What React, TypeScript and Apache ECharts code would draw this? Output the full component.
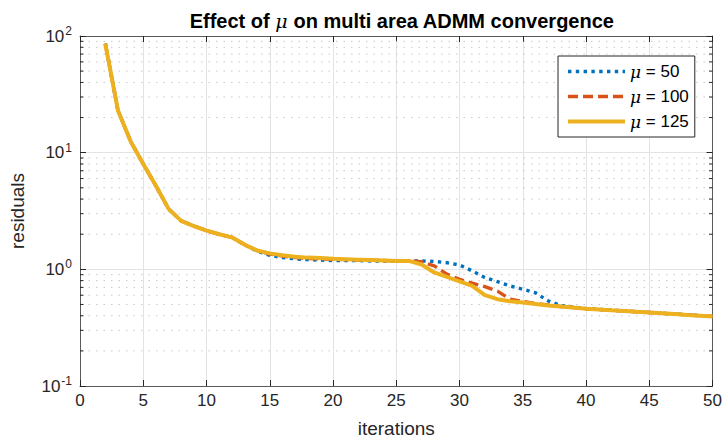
import React, { useEffect, useRef } from "react";
import * as echarts from "echarts";

const iterations = [2,3,4,5,6,7,8,9,10,11,12,13,14,15,16,17,18,19,20,21,22,23,24,25,26,27,28,29,30,31,32,33,34,35,36,37,38,39,40,41,42,43,44,45,46,47,48,49,50];

const mu50 = [86,23,12.5,8.0,5.2,3.3,2.6,2.35,2.15,2.0,1.88,1.63,1.43,1.32,1.26,1.23,1.21,1.2,1.19,1.19,1.19,1.18,1.18,1.18,1.18,1.18,1.17,1.14,1.09,0.97,0.85,0.785,0.72,0.675,0.63,0.537,0.49,0.475,0.462,0.454,0.447,0.44,0.433,0.427,0.42,0.414,0.407,0.401,0.395];
const mu100 = [86,23,12.5,8.0,5.2,3.3,2.6,2.35,2.15,2.0,1.88,1.63,1.45,1.35,1.3,1.26,1.24,1.23,1.22,1.21,1.2,1.2,1.19,1.18,1.18,1.16,1.07,0.91,0.82,0.76,0.71,0.65,0.555,0.53,0.51,0.495,0.48,0.47,0.46,0.453,0.446,0.44,0.433,0.427,0.42,0.414,0.407,0.401,0.395];
const mu125 = [86,23,12.5,8.0,5.2,3.3,2.6,2.35,2.15,2.0,1.88,1.63,1.45,1.37,1.32,1.28,1.26,1.25,1.23,1.22,1.21,1.2,1.19,1.18,1.18,1.1,0.94,0.86,0.79,0.72,0.6,0.555,0.533,0.52,0.505,0.49,0.48,0.47,0.46,0.453,0.446,0.44,0.433,0.427,0.42,0.414,0.407,0.401,0.395];

const seriesNames = ["50", "100", "125"];
const seriesColors = ["#0072BD", "#D95319", "#EDB120"];
const xTicks = { min: 0, max: 50, interval: 5 };
const yRange = { min: 0.1, max: 100 };
const minorDecades = [0.1, 1, 10];
const minorSteps = [2, 3, 4, 5, 6, 7, 8, 9];

const FONT = "'Liberation Sans', Arial, Helvetica, sans-serif";
const AXIS_COLOR = "#5a5a5a";

const lineStyles: any[] = [
  { color: seriesColors[0], width: 3.4, type: [3.4, 4.4], cap: "butt" },
  { color: seriesColors[1], width: 3.4, type: [10, 5], cap: "butt" },
  { color: seriesColors[2], width: 4, type: "solid" },
];

export default function App() {
  const ref = useRef<HTMLDivElement>(null);
  useEffect(() => {
    if (!ref.current) return;
    const chart = echarts.init(ref.current, null, { renderer: "svg" });
    const minorVals: number[][] = [];
    minorDecades.forEach((d) => minorSteps.forEach((s) => minorVals.push([0, d * s])));
    const mk = (arr: number[]) => iterations.map((x, i) => [x, arr[i]]);

    const yLabel = {
      fontFamily: FONT,
      fontSize: 17,
      color: "#262626",
      margin: 8,
      formatter: (v: number) => `10{sup|${Math.round(Math.log10(v))}}`,
      rich: {
        sup: { fontFamily: FONT, fontSize: 12, color: "#262626", verticalAlign: "bottom", padding: [0, 0, 10, 1] },
      },
    };

    chart.setOption({
      animation: false,
      backgroundColor: "#ffffff",
      title: {
        text: "Effect of {mu|μ} on multi area ADMM convergence",
        left: 397,
        textAlign: "center",
        top: 6,
        textStyle: {
          fontFamily: FONT,
          fontSize: 20,
          fontWeight: "bold",
          color: "#000",
          rich: {
            mu: { fontFamily: "'DejaVu Serif', serif", fontStyle: "italic", fontWeight: "normal", fontSize: 19, color: "#000" },
          },
        },
      },
      legend: {
        orient: "vertical",
        left: 558,
        top: 56,
        padding: [7, 6, 7, 8],
        itemGap: 8,
        itemWidth: 57,
        itemHeight: 14,
        backgroundColor: "#fff",
        borderColor: "#262626",
        borderWidth: 1,
        borderRadius: 0,
        itemStyle: { opacity: 0 },
        data: seriesNames.map((n, i) => ({ name: n, lineStyle: lineStyles[i] })),
        formatter: (name: string) => `{mu|μ} = ${name}`,
        textStyle: {
          fontFamily: FONT,
          fontSize: 17,
          color: "#000",
          rich: {
            mu: { fontFamily: "'DejaVu Serif', serif", fontStyle: "italic", fontSize: 17, color: "#000" },
          },
        },
      },
      grid: { left: 80, right: 11, top: 36, bottom: 56, containLabel: false },
      xAxis: [
        {
          type: "value",
          ...xTicks,
          position: "bottom",
          name: "iterations",
          nameLocation: "middle",
          nameGap: 33,
          nameTextStyle: { fontFamily: FONT, fontSize: 19, color: "#262626" },
          axisLine: { show: true, onZero: false, lineStyle: { color: AXIS_COLOR, width: 1 } },
          axisTick: { show: true, inside: true, length: 6, lineStyle: { color: "#262626" } },
          axisLabel: { fontFamily: FONT, fontSize: 17, color: "#262626", margin: 6 },
          splitLine: { show: true, lineStyle: { color: "#e3e3e3", width: 1 } },
        },
        {
          type: "value",
          ...xTicks,
          position: "top",
          axisLine: { show: true, onZero: false, lineStyle: { color: AXIS_COLOR, width: 1 } },
          axisTick: { show: true, inside: true, length: 6, lineStyle: { color: "#262626" } },
          axisLabel: { show: false },
          splitLine: { show: false },
        },
      ],
      yAxis: [
        {
          type: "log",
          logBase: 10,
          ...yRange,
          position: "left",
          name: "residuals",
          nameLocation: "middle",
          nameGap: 53,
          nameTextStyle: { fontFamily: FONT, fontSize: 19, color: "#262626" },
          axisLine: { show: true, onZero: false, lineStyle: { color: AXIS_COLOR, width: 1 } },
          axisTick: { show: true, inside: true, length: 6, lineStyle: { color: "#262626" } },
          axisLabel: yLabel,
          splitLine: { show: true, lineStyle: { color: "#e3e3e3", width: 1 } },
        },
        {
          type: "log",
          logBase: 10,
          ...yRange,
          position: "right",
          axisLine: { show: true, onZero: false, lineStyle: { color: AXIS_COLOR, width: 1 } },
          axisTick: { show: true, inside: true, length: 6, lineStyle: { color: "#262626" } },
          axisLabel: { show: false },
          splitLine: { show: false },
        },
      ],
      series: [
        {
          type: "custom",
          silent: true,
          xAxisIndex: 0,
          yAxisIndex: 0,
          z: 1,
          data: minorVals,
          renderItem: (params: any, api: any) => {
            const v = api.value(1);
            const p0 = api.coord([xTicks.min, v]);
            const p1 = api.coord([xTicks.max, v]);
            return {
              type: "group",
              children: [
                {
                  type: "line",
                  shape: { x1: p0[0] + 1, y1: p0[1], x2: p1[0] - 1, y2: p1[1] },
                  style: { stroke: "#c8c8c8", lineWidth: 1, lineDash: [1.5, 6] },
                },
                {
                  type: "line",
                  shape: { x1: p0[0], y1: p0[1], x2: p0[0] + 3.5, y2: p0[1] },
                  style: { stroke: "#262626", lineWidth: 1 },
                },
                {
                  type: "line",
                  shape: { x1: p1[0] - 3.5, y1: p1[1], x2: p1[0], y2: p1[1] },
                  style: { stroke: "#262626", lineWidth: 1 },
                },
              ],
            };
          },
        },
        ...seriesNames.map((n, i) => ({
          name: n,
          type: "line",
          data: mk([mu50, mu100, mu125][i]),
          showSymbol: false,
          symbol: "none",
          z: 3 + i,
          color: seriesColors[i],
          lineStyle: lineStyles[i],
        })),
      ],
    });
    return () => chart.dispose();
  }, []);
  return <div ref={ref} style={{ width: 725, height: 443, position: "absolute", left: 0, top: 0 }} />;
}
